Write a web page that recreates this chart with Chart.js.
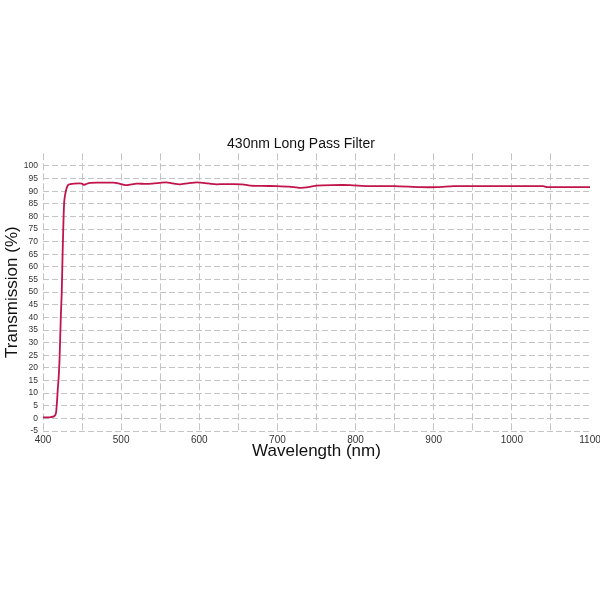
<!DOCTYPE html>
<html>
<head>
<meta charset="utf-8">
<script src="https://cdn.jsdelivr.net/npm/chart.js@4"></script>
<style>
  html, body { margin: 0; padding: 0; background: #fff; }
  #wrap { width: 600px; height: 600px; }
</style>
</head>
<body>
<div id="wrap"><canvas id="chart" width="600" height="600"></canvas></div>
<script>
// wavelength (nm) and transmission (%)
const wavelength = [400, 405, 410, 414, 416, 417, 418, 419, 420, 421, 422, 423, 424, 425, 426, 427, 428, 430, 432, 435,
  440, 450, 452, 455, 460, 470, 480, 490, 495, 500, 505, 510, 520, 530, 540, 550, 558, 565, 575, 585,
  597, 605, 615, 622, 630, 643, 655, 665, 680, 699, 715, 729, 740, 750, 770, 793, 815, 850, 883, 905,
  925, 960, 1000, 1040, 1045, 1070, 1100];
const transmission = [0.4, 0.4, 0.5, 0.8, 1.5, 3, 7, 12, 16, 22, 32, 42, 50, 64, 76, 85, 88, 91, 92.4, 92.8,
  93.0, 93.0, 92.5, 92.8, 93.3, 93.4, 93.4, 93.4, 93.2, 92.8, 92.4, 92.5, 93.0, 92.9, 93.0, 93.3, 93.5, 93.1, 92.7, 93.1,
  93.5, 93.3, 92.9, 92.7, 92.8, 92.8, 92.7, 92.2, 92.1, 92.0, 91.8, 91.3, 91.6, 92.2, 92.4, 92.4, 92.0, 92.0, 91.6, 91.6,
  92.0, 92.0, 92.0, 92.0, 91.6, 91.6, 91.6];

const xLabels = [400, 500, 600, 700, 800, 900, 1000, 1100];
const yTicks = [-5, 0, 5, 10, 15, 20, 25, 30, 35, 40, 45, 50, 55, 60, 65, 70, 75, 80, 85, 90, 95, 100];

const points = wavelength.map((w, i) => ({ x: w, y: transmission[i] }));
const font = 'Liberation Sans, Arial, sans-serif';
const gridColor = '#c4c4c4';

const ctx = document.getElementById('chart').getContext('2d');
new Chart(ctx, {
  type: 'line',
  data: {
    datasets: [{
      label: 'Transmission',
      data: points,
      borderColor: 'rgb(192, 20, 74)',
      borderWidth: 1.8,
      pointRadius: 0,
      tension: 0.2,
      fill: false
    }]
  },
  options: {
    responsive: false,
    animation: false,
    layout: { padding: { top: 0, left: 2, right: 0, bottom: 138 } },
    plugins: {
      legend: { display: false },
      tooltip: { enabled: false },
      title: {
        display: true,
        text: '430nm Long Pass Filter',
        color: '#111',
        font: { family: font, size: 14, weight: 'normal' },
        padding: { top: 136, bottom: 0.5 }
      }
    },
    scales: {
      x: {
        type: 'linear',
        min: 400,
        max: 1100,
        afterFit: (s) => { s.height = 31; s.paddingRight = 10; },
        grid: {
          color: (c) => (c.tick && c.tick.value === 1100 ? 'rgba(0,0,0,0)' : gridColor),
          lineWidth: 1,
          drawTicks: false
        },
        border: { display: false, dash: [7, 3] },
        ticks: {
          stepSize: 50,
          autoSkip: false,
          maxRotation: 0,
          padding: 3,
          color: '#333',
          font: { family: font, size: 10 },
          callback: (v) => (xLabels.includes(v) ? v : '')
        },
        title: {
          display: true,
          text: 'Wavelength (nm)',
          color: '#111',
          font: { family: font, size: 17 },
          padding: { top: 0, bottom: 0 }
        }
      },
      y: {
        min: -5,
        max: 105,
        afterFit: (s) => { s.width = 41; },
        afterBuildTicks: (s) => { s.ticks = yTicks.map((v) => ({ value: v })); },
        grid: {
          color: gridColor,
          lineWidth: 1,
          drawTicks: false
        },
        border: { display: false, dash: [6, 3] },
        ticks: {
          padding: 5,
          color: '#333',
          font: { family: font, size: 8.5 }
        },
        title: {
          display: true,
          text: 'Transmission (%)',
          color: '#111',
          font: { family: font, size: 17 },
          padding: { top: 0, bottom: 1 }
        }
      }
    }
  }
});
</script>
</body>
</html>
